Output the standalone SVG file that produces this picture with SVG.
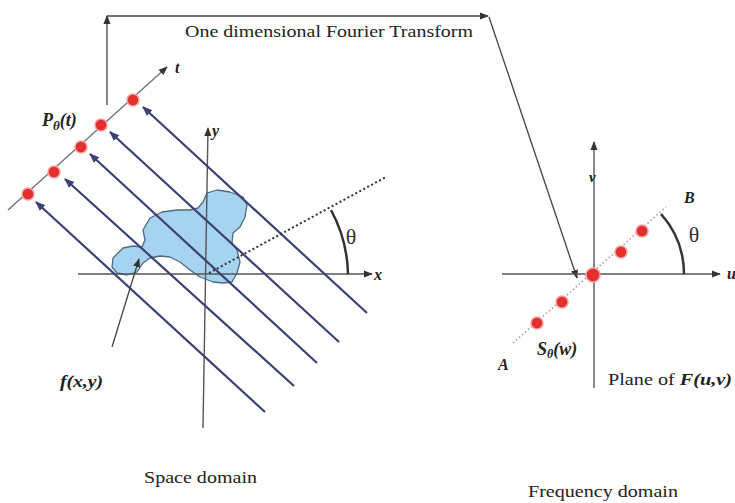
<svg xmlns="http://www.w3.org/2000/svg" width="735" height="503" viewBox="0 0 735 503">
<style>
.serif{font-family:"Liberation Serif","DejaVu Serif",serif;fill:#222}
.math{font-family:"Liberation Serif","DejaVu Serif",serif;font-style:italic;font-weight:bold;fill:#222}
.axis{stroke:#555;stroke-width:1.4;fill:none}
.proj{stroke:#3c4173;stroke-width:2.2;fill:none}
.conn{stroke:#444;stroke-width:1.3;fill:none}
.dot{fill:#e3302e;stroke:#f4a0a0;stroke-width:1.5}
.arc{stroke:#333;stroke-width:2.5;fill:none}
.theta{font-family:"Liberation Serif","DejaVu Serif",serif;font-size:22px;fill:#333;text-anchor:middle}
</style>
<defs>
<marker id="ah" viewBox="0 0 10 10" refX="9" refY="5" markerWidth="9" markerHeight="9" markerUnits="userSpaceOnUse" orient="auto">
<path d="M0,1 L10,5 L0,9 z" fill="#333"/>
</marker>
<marker id="ahn" viewBox="0 0 10 10" refX="9" refY="5" markerWidth="10" markerHeight="10" markerUnits="userSpaceOnUse" orient="auto">
<path d="M0,1 L10,5 L0,9 z" fill="#3c4173"/>
</marker>
</defs>
<rect width="735" height="503" fill="#fff"/>

<g id="blob">
<path d="M112,267 L113,258 L123,248 L133,246 L142,247 L145,240 L143,230 L150,218 L162,212 L177,210 L190,210 L198,208 L203,202 L207,193 L217,190 L230,192 L243,197 L247,205 L245,217 L240,227 L233,233 L232,243 L237,250 L240,262 L237,273 L232,282 L223,283 L213,282 L200,277 L190,270 L180,262 L170,257 L160,256 L150,258 L143,263 L137,272 L127,275 L117,273 Z" fill="#a6d3ef" stroke="#4d6a85" stroke-width="1.3" stroke-linejoin="round"/>
</g>

<g id="space-axes">
<line class="axis" x1="78" y1="274" x2="372" y2="274" marker-end="url(#ah)"/>
<line class="axis" x1="203" y1="428" x2="208" y2="128" marker-end="url(#ah)"/>
<text class="math" x="374" y="280" font-size="16">x</text>
<text class="math" x="212" y="136" font-size="16">y</text>
</g>

<g id="t-axis">
<line stroke="#777" stroke-width="1.5" x1="8" y1="210" x2="167" y2="67" marker-end="url(#ah)"/>
<text class="math" x="175" y="73" font-size="16">t</text>
<text class="math" x="42" y="126" font-size="18">P<tspan font-size="13" dy="4">θ</tspan><tspan dy="-4">(t)</tspan></text>
</g>

<g id="connectors">
<line class="proj" x1="367" y1="313" x2="143" y2="107" marker-end="url(#ahn)"/>
<line class="proj" x1="339" y1="342" x2="110" y2="132" marker-end="url(#ahn)"/>
<line class="proj" x1="317" y1="363" x2="90" y2="154" marker-end="url(#ahn)"/>
<line class="proj" x1="294" y1="386" x2="65" y2="179" marker-end="url(#ahn)"/>
<line class="proj" x1="265" y1="412" x2="36" y2="202" marker-end="url(#ahn)"/>
<line class="conn" x1="107" y1="105" x2="107" y2="16" marker-end="url(#ah)"/>
<line class="conn" x1="107" y1="16" x2="488" y2="16" marker-end="url(#ah)"/>
<line class="conn" x1="489" y1="17" x2="577" y2="278" marker-end="url(#ah)"/>
<line class="conn" x1="112" y1="347" x2="139" y2="259" marker-end="url(#ah)"/>
</g>

<g id="projection-dots">
<circle class="dot" cx="133" cy="100" r="6"/>
<circle class="dot" cx="101" cy="125" r="6"/>
<circle class="dot" cx="81" cy="147" r="6"/>
<circle class="dot" cx="54" cy="172" r="6"/>
<circle class="dot" cx="28" cy="194" r="6"/>
</g>

<g id="space-angle">
<line x1="209" y1="273" x2="386" y2="177" stroke="#333" stroke-width="2" stroke-dasharray="2 2.5"/>
<path class="arc" d="M331,210 A140,140 0 0 1 348,274"/>
<text class="theta" x="351" y="244">θ</text>
</g>

<g id="labels">
<text x="185" y="37" class="serif" font-size="17" textLength="288" lengthAdjust="spacingAndGlyphs">One dimensional Fourier Transform</text>
<text class="math" x="60" y="387" font-size="16" textLength="43" lengthAdjust="spacingAndGlyphs">f(x,y)</text>
<text class="serif" x="144" y="483" font-size="17" textLength="113" lengthAdjust="spacingAndGlyphs">Space domain</text>
<text class="serif" x="528" y="497" font-size="17" textLength="150" lengthAdjust="spacingAndGlyphs">Frequency domain</text>
</g>

<g id="freq-axes">
<line class="axis" x1="502" y1="274" x2="720" y2="274" marker-end="url(#ah)"/>
<line class="axis" x1="594" y1="388" x2="594" y2="142" marker-end="url(#ah)"/>
<text class="math" x="727" y="279" font-size="16">u</text>
<text class="math" x="589" y="182" font-size="15">v</text>
</g>

<g id="freq-line">
<line x1="513" y1="343" x2="666" y2="207" stroke="#b09aa6" stroke-width="1.6" stroke-dasharray="1.5 2.5"/>
<circle class="dot" cx="642" cy="231" r="6"/>
<circle class="dot" cx="621" cy="252" r="6"/>
<circle class="dot" cx="593" cy="275" r="7"/>
<circle class="dot" cx="562" cy="302" r="6"/>
<circle class="dot" cx="537" cy="323" r="6"/>
<path class="arc" d="M661,214 A90,90 0 0 1 684,274"/>
<text class="theta" x="694" y="242">θ</text>
<text class="math" x="684" y="203" font-size="16">B</text>
<text class="math" x="498" y="370" font-size="16">A</text>
<text class="math" x="537" y="355" font-size="18">S<tspan font-size="12" dy="3">θ</tspan><tspan dy="-3">(w)</tspan></text>
<text class="serif" x="608" y="385" font-size="17" textLength="124" lengthAdjust="spacingAndGlyphs">Plane of <tspan class="math">F(u,v)</tspan></text>
</g>
</svg>
